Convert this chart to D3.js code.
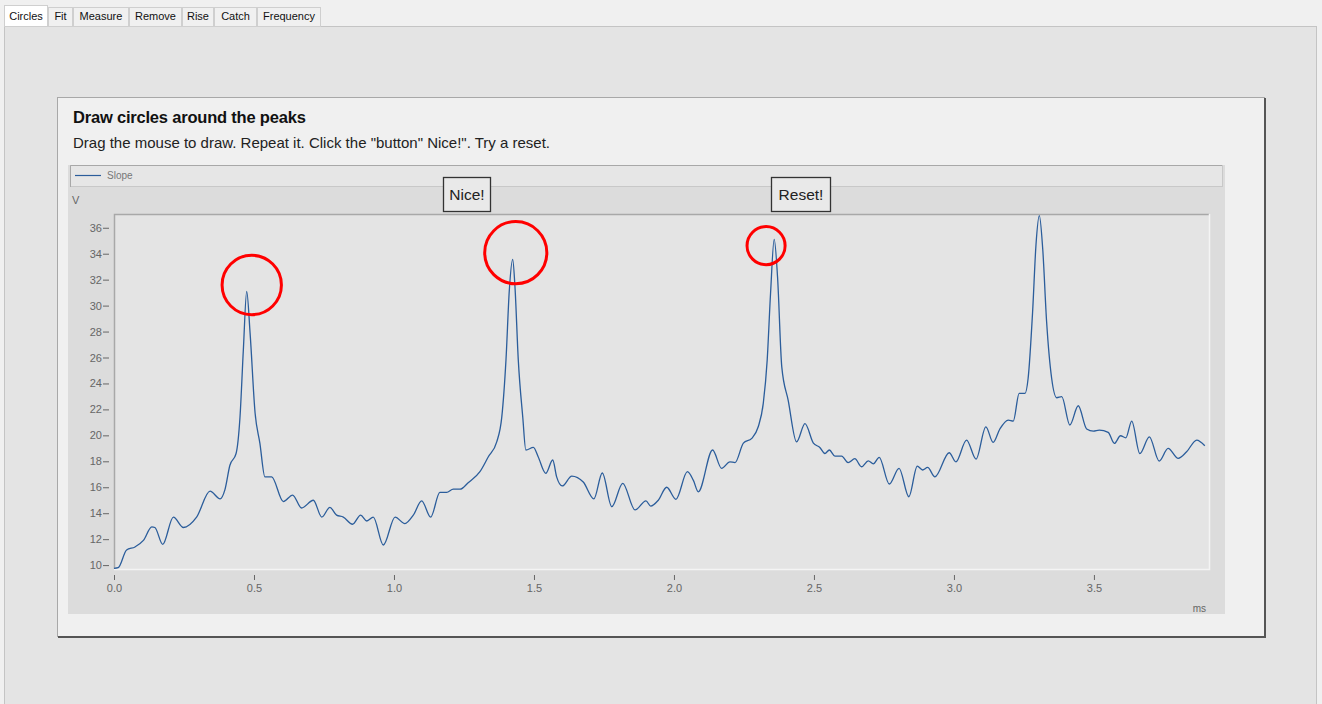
<!DOCTYPE html>
<html>
<head>
<meta charset="utf-8">
<script src="https://cdn.jsdelivr.net/npm/d3@7/dist/d3.min.js"></script>
<style>
  html, body { margin: 0; padding: 0; background: #f0f0f0; overflow: hidden; }
  svg { display: block; font-family: "Liberation Sans", Arial, sans-serif; }
</style>
</head>
<body>
<svg id="chart" width="1322" height="704"></svg>
<script>
// ---------- data ----------
const tabs = ["Circles", "Fit", "Measure", "Remove", "Rise", "Catch", "Frequency"];
const titleText = "Draw circles around the peaks";
const subtitleText = "Drag the mouse to draw. Repeat it. Click the \"button\" Nice!\". Try a reset.";
const seriesName = "Slope";
const yUnit = "V";
const xUnit = "ms";
const buttons = ["Nice!", "Reset!"];

const times = [
  0.000, 0.015, 0.045, 0.075, 0.105, 0.135, 0.146, 0.174, 0.212, 0.248, 0.295, 0.343, 0.379, 0.396, 0.414, 0.436,
  0.450, 0.462, 0.474, 0.486, 0.504, 0.521, 0.539, 0.563, 0.605, 0.638, 0.670, 0.712, 0.742, 0.771, 0.795, 0.819,
  0.852, 0.881, 0.903, 0.926, 0.962, 1.004, 1.039, 1.069, 1.099, 1.131, 1.164, 1.188, 1.212, 1.236, 1.265, 1.307,
  1.337, 1.367, 1.385, 1.400, 1.412, 1.424, 1.432, 1.444, 1.460, 1.471, 1.498, 1.515, 1.542, 1.567, 1.581, 1.601,
  1.635, 1.676, 1.714, 1.744, 1.778, 1.817, 1.861, 1.900, 1.917, 1.944, 1.974, 2.007, 2.048, 2.069, 2.087, 2.138,
  2.170, 2.200, 2.218, 2.248, 2.278, 2.301, 2.319, 2.333, 2.345, 2.358, 2.370, 2.385, 2.408, 2.438, 2.468, 2.498,
  2.521, 2.539, 2.555, 2.575, 2.599, 2.622, 2.646, 2.670, 2.694, 2.712, 2.733, 2.769, 2.804, 2.839, 2.869, 2.888,
  2.906, 2.932, 2.983, 3.007, 3.045, 3.079, 3.114, 3.140, 3.164, 3.194, 3.212, 3.233, 3.254, 3.265, 3.281, 3.293,
  3.305, 3.317, 3.331, 3.349, 3.367, 3.385, 3.414, 3.444, 3.474, 3.498, 3.519, 3.551, 3.573, 3.595, 3.614, 3.635,
  3.664, 3.698, 3.733, 3.765, 3.801, 3.831, 3.867, 3.896
];
const slope = [
  9.75, 9.80, 11.16, 11.40, 11.90, 12.95, 12.90, 11.60, 13.70, 12.90, 13.70, 15.70, 15.10, 15.80, 17.70, 18.60,
  21.40, 26.60, 31.10, 27.90, 21.70, 19.40, 16.80, 16.80, 14.90, 15.40, 14.40, 15.00, 13.70, 14.45, 13.85, 13.70,
  13.15, 13.85, 13.40, 13.70, 11.55, 13.70, 13.20, 13.85, 14.95, 13.70, 15.60, 15.60, 15.85, 15.85, 16.35, 17.20,
  18.35, 19.50, 21.40, 25.80, 31.20, 33.57, 31.50, 25.80, 21.40, 18.87, 19.07, 18.35, 17.07, 18.10, 16.80, 16.10,
  16.86, 16.40, 15.10, 17.10, 14.50, 16.30, 14.25, 14.95, 14.55, 15.00, 16.00, 15.07, 17.20, 16.55, 15.65, 18.87,
  17.46, 17.96, 17.90, 19.40, 19.77, 20.66, 22.47, 25.80, 30.95, 35.10, 32.20, 25.30, 22.70, 19.50, 20.90, 19.40,
  19.07, 18.60, 18.87, 18.40, 18.40, 17.90, 18.20, 17.58, 18.04, 17.80, 18.30, 16.25, 17.46, 15.27, 17.63, 17.33,
  17.53, 16.80, 18.66, 17.96, 19.64, 18.17, 20.66, 19.46, 20.49, 21.18, 21.10, 23.24, 23.24, 24.40, 29.53, 34.67,
  36.93, 34.40, 28.76, 24.40, 22.90, 22.98, 20.80, 22.28, 20.49, 20.33, 20.41, 20.23, 19.38, 19.97, 19.81, 21.10,
  18.60, 19.89, 18.02, 19.00, 18.23, 18.73, 19.64, 19.20
];
const xTicks = [0.0, 0.5, 1.0, 1.5, 2.0, 2.5, 3.0, 3.5];
const yTicks = [10, 12, 14, 16, 18, 20, 22, 24, 26, 28, 30, 32, 34, 36];
const xDomain = [0, 3.911];
const yDomain = [9.7, 37.06];
// user-drawn circles: centre (ms, V) and radius (ms)
const circleX = [0.492, 1.435, 2.329];
const circleY = [31.59, 34.08, 34.62];
const circleR = [0.106, 0.111, 0.068];

// ---------- drawing ----------
const svg = d3.select("#chart");
const FONT = "'Liberation Sans', Arial, sans-serif";

// page backgrounds
svg.append("rect").attr("x", 0).attr("y", 0).attr("width", 1322).attr("height", 704).attr("fill", "#f0f0f0");
svg.append("rect").attr("x", 4.5).attr("y", 26.5).attr("width", 1312).attr("height", 690)
  .attr("fill", "#e4e4e4").attr("stroke", "#c4c4c4");

// tabs
const tabW = [44, 25, 56, 53, 32, 43, 64];
let tx = 4;
tabs.forEach((t, i) => {
  const sel = i === 0;
  svg.append("rect").attr("x", tx + 0.5).attr("y", sel ? 5.5 : 7.5).attr("width", tabW[i] - 1).attr("height", sel ? 21 : 19)
    .attr("fill", sel ? "#ffffff" : "#f0f0f0").attr("stroke", "#cfcfcf");
  svg.append("text").attr("x", tx + tabW[i] / 2).attr("y", 20).attr("text-anchor", "middle")
    .attr("font-size", 11).attr("fill", "#111").attr("font-family", FONT).text(t);
  tx += tabW[i];
});

// inner panel
svg.append("rect").attr("x", 57.5).attr("y", 97.5).attr("width", 1207).attr("height", 539)
  .attr("fill", "#f0f0f0").attr("stroke", "#a8a8a8");
svg.append("path").attr("d", "M1265,98 V637 H58").attr("fill", "none").attr("stroke", "#555").attr("stroke-width", 2);

svg.append("text").attr("x", 73).attr("y", 123).attr("font-size", 16.5).attr("font-weight", "bold")
  .attr("fill", "#111").attr("font-family", FONT).attr("letter-spacing", -0.2).text(titleText);
svg.append("text").attr("x", 73).attr("y", 148).attr("font-size", 15).attr("fill", "#222")
  .attr("font-family", FONT).text(subtitleText);

// chart area
svg.append("rect").attr("x", 68).attr("y", 165).attr("width", 1157).attr("height", 449).attr("fill", "#dcdcdc");
// legend box
svg.append("rect").attr("x", 70.5).attr("y", 165.5).attr("width", 1152).attr("height", 21)
  .attr("fill", "#e6e6e6").attr("stroke", "#c8c8c8");
svg.append("path").attr("d", "M70.5,187 V165.5 H1222").attr("fill", "none").attr("stroke", "#a8a8a8");
svg.append("line").attr("x1", 75).attr("x2", 101).attr("y1", 175.5).attr("y2", 175.5)
  .attr("stroke", "#2b5d9b").attr("stroke-width", 1.2);
svg.append("text").attr("x", 107).attr("y", 179).attr("font-size", 10).attr("fill", "#777")
  .attr("font-family", FONT).text(seriesName);

// scales
const x = d3.scaleLinear().domain(xDomain).range([114, 1209]);
const y = d3.scaleLinear().domain(yDomain).range([569, 214]);

// plot area
svg.append("rect").attr("x", 114).attr("y", 214).attr("width", 1095).attr("height", 355).attr("fill", "#e4e4e4");
svg.append("path").attr("d", "M114.5,569 V214.5 H1209").attr("fill", "none").attr("stroke", "#a8a8a8").attr("stroke-width", 1.5);
svg.append("path").attr("d", "M1209.5,214 V569.5 H114").attr("fill", "none").attr("stroke", "#f4f4f4").attr("stroke-width", 1.5);

// axes
const yAxis = d3.axisLeft(y).tickValues(yTicks).tickSize(6).tickPadding(1).tickFormat(d3.format("d"));
const gy = svg.append("g").attr("transform", "translate(109,0)").call(yAxis);
gy.select(".domain").remove();
gy.selectAll(".tick line").attr("stroke", "#666");
gy.selectAll(".tick text").attr("fill", "#666").attr("font-size", 11).attr("font-family", FONT);

const xAxis = d3.axisBottom(x).tickValues(xTicks).tickSize(5).tickPadding(4).tickFormat(d3.format(".1f"));
const gx = svg.append("g").attr("transform", "translate(0,575)").call(xAxis);
gx.select(".domain").remove();
gx.selectAll(".tick line").attr("stroke", "#666");
gx.selectAll(".tick text").attr("fill", "#666").attr("font-size", 11).attr("font-family", FONT);

svg.append("text").attr("x", 72).attr("y", 204).attr("font-size", 11).attr("fill", "#666")
  .attr("font-family", FONT).text(yUnit);
svg.append("text").attr("x", 1206).attr("y", 612).attr("text-anchor", "end").attr("font-size", 10).attr("fill", "#666")
  .attr("font-family", FONT).text(xUnit);

// line
const pts = times.map((t, i) => [t, slope[i]]);
const line = d3.line().x(d => x(d[0])).y(d => y(d[1])).curve(d3.curveMonotoneX);
svg.append("path").datum(pts).attr("d", line).attr("fill", "none")
  .attr("stroke", "#2b5d9b").attr("stroke-width", 1.3).attr("stroke-linejoin", "round");

// buttons
const btnX = [443, 771];
const btnW = [47, 59];
buttons.forEach((b, i) => {
  svg.append("rect").attr("x", btnX[i] + 0.5).attr("y", 177.5).attr("width", btnW[i]).attr("height", 34)
    .attr("fill", "#e9e9e9").attr("stroke", "#333").attr("stroke-width", 1.3);
  svg.append("text").attr("x", btnX[i] + btnW[i] / 2 + 0.5).attr("y", 200).attr("text-anchor", "middle")
    .attr("font-size", 15.5).attr("fill", "#222").attr("font-family", FONT).text(b);
});

// user-drawn circles
circleX.forEach((cx, i) => {
  svg.append("circle").attr("cx", x(cx)).attr("cy", y(circleY[i]))
    .attr("r", x(circleR[i]) - x(0)).attr("fill", "none").attr("stroke", "#ff0000").attr("stroke-width", 3);
});
</script>
</body>
</html>
